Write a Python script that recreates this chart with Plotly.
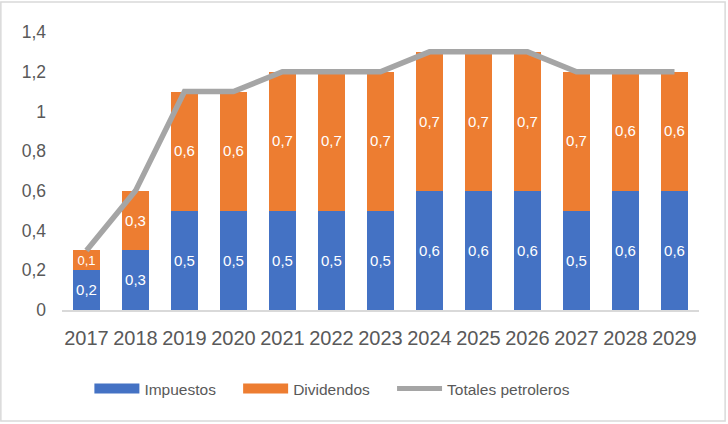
import plotly.graph_objects as go

# chart data
years = ["2017", "2018", "2019", "2020", "2021", "2022", "2023",
         "2024", "2025", "2026", "2027", "2028", "2029"]
impuestos = [0.2, 0.3, 0.5, 0.5, 0.5, 0.5, 0.5, 0.6, 0.6, 0.6, 0.5, 0.6, 0.6]
dividendos = [0.1, 0.3, 0.6, 0.6, 0.7, 0.7, 0.7, 0.7, 0.7, 0.7, 0.7, 0.6, 0.6]
totales = [0.3, 0.6, 1.1, 1.1, 1.2, 1.2, 1.2, 1.3, 1.3, 1.3, 1.2, 1.2, 1.2]

BLUE = "#4472c4"
ORANGE = "#ed7d31"
GRAY = "#a5a5a5"
TXT = "#595959"
FONT = "Liberation Sans Narrow, Arial Narrow, Liberation Sans, Arial"

fig = go.Figure()

for nm, vals, col in [("Impuestos", impuestos, BLUE), ("Dividendos", dividendos, ORANGE)]:
    fig.add_trace(go.Bar(x=years, y=vals, name=nm, marker_color=col,
                         marker_line_width=0, texttemplate="%{y:.1f}", textposition="inside",
                         insidetextanchor="middle", textangle=0,
                         textfont=dict(color="white", size=16, family=FONT),
                         showlegend=False))
fig.add_trace(go.Scatter(x=years, y=totales, name="Totales petroleros", mode="lines",
                         line=dict(color=GRAY, width=5.5), showlegend=False))

# legend entries (wide swatches like the original), nbsp padding for spacing
pad = "\u00a0" * 4
for nm, col, w in [("Impuestos" + pad, BLUE, 11), ("Dividendos" + pad, ORANGE, 11),
                   ("Totales petroleros", GRAY, 5)]:
    fig.add_trace(go.Scatter(x=[None], y=[None], name=nm, mode="lines",
                             line=dict(color=col, width=w)))

fig.update_layout(
    width=728, height=424,
    barmode="stack", bargap=0.45,
    separators=",.",
    plot_bgcolor="white", paper_bgcolor="white",
    margin=dict(l=62, r=29, t=32, b=114),
    font=dict(family=FONT, color=TXT, size=16),
    legend=dict(orientation="h", x=0.043, xanchor="left", y=-0.284, yanchor="middle",
                font=dict(size=15.5, color=TXT), itemwidth=45,
                traceorder="normal"),
    shapes=[dict(type="rect", xref="paper", yref="paper",
                 x0=-0.096, x1=1.041, y0=-0.399, y1=1.108,
                 line=dict(color="#d9d9d9", width=1.5))],
)
fig.update_xaxes(showgrid=False, showline=True, linecolor="#d9d9d9", linewidth=1.5,
                 ticks="", ticklabelstandoff=9, tickfont=dict(size=20, color=TXT))
fig.update_yaxes(range=[0, 1.4], dtick=0.2, showgrid=False, zeroline=False,
                 showline=False, ticks="", ticklabelstandoff=15,
                 tickfont=dict(size=17.5, color=TXT))

fig.write_html("out.html", config={"displayModeBar": False},
               post_script="document.body.style.margin='0';")
